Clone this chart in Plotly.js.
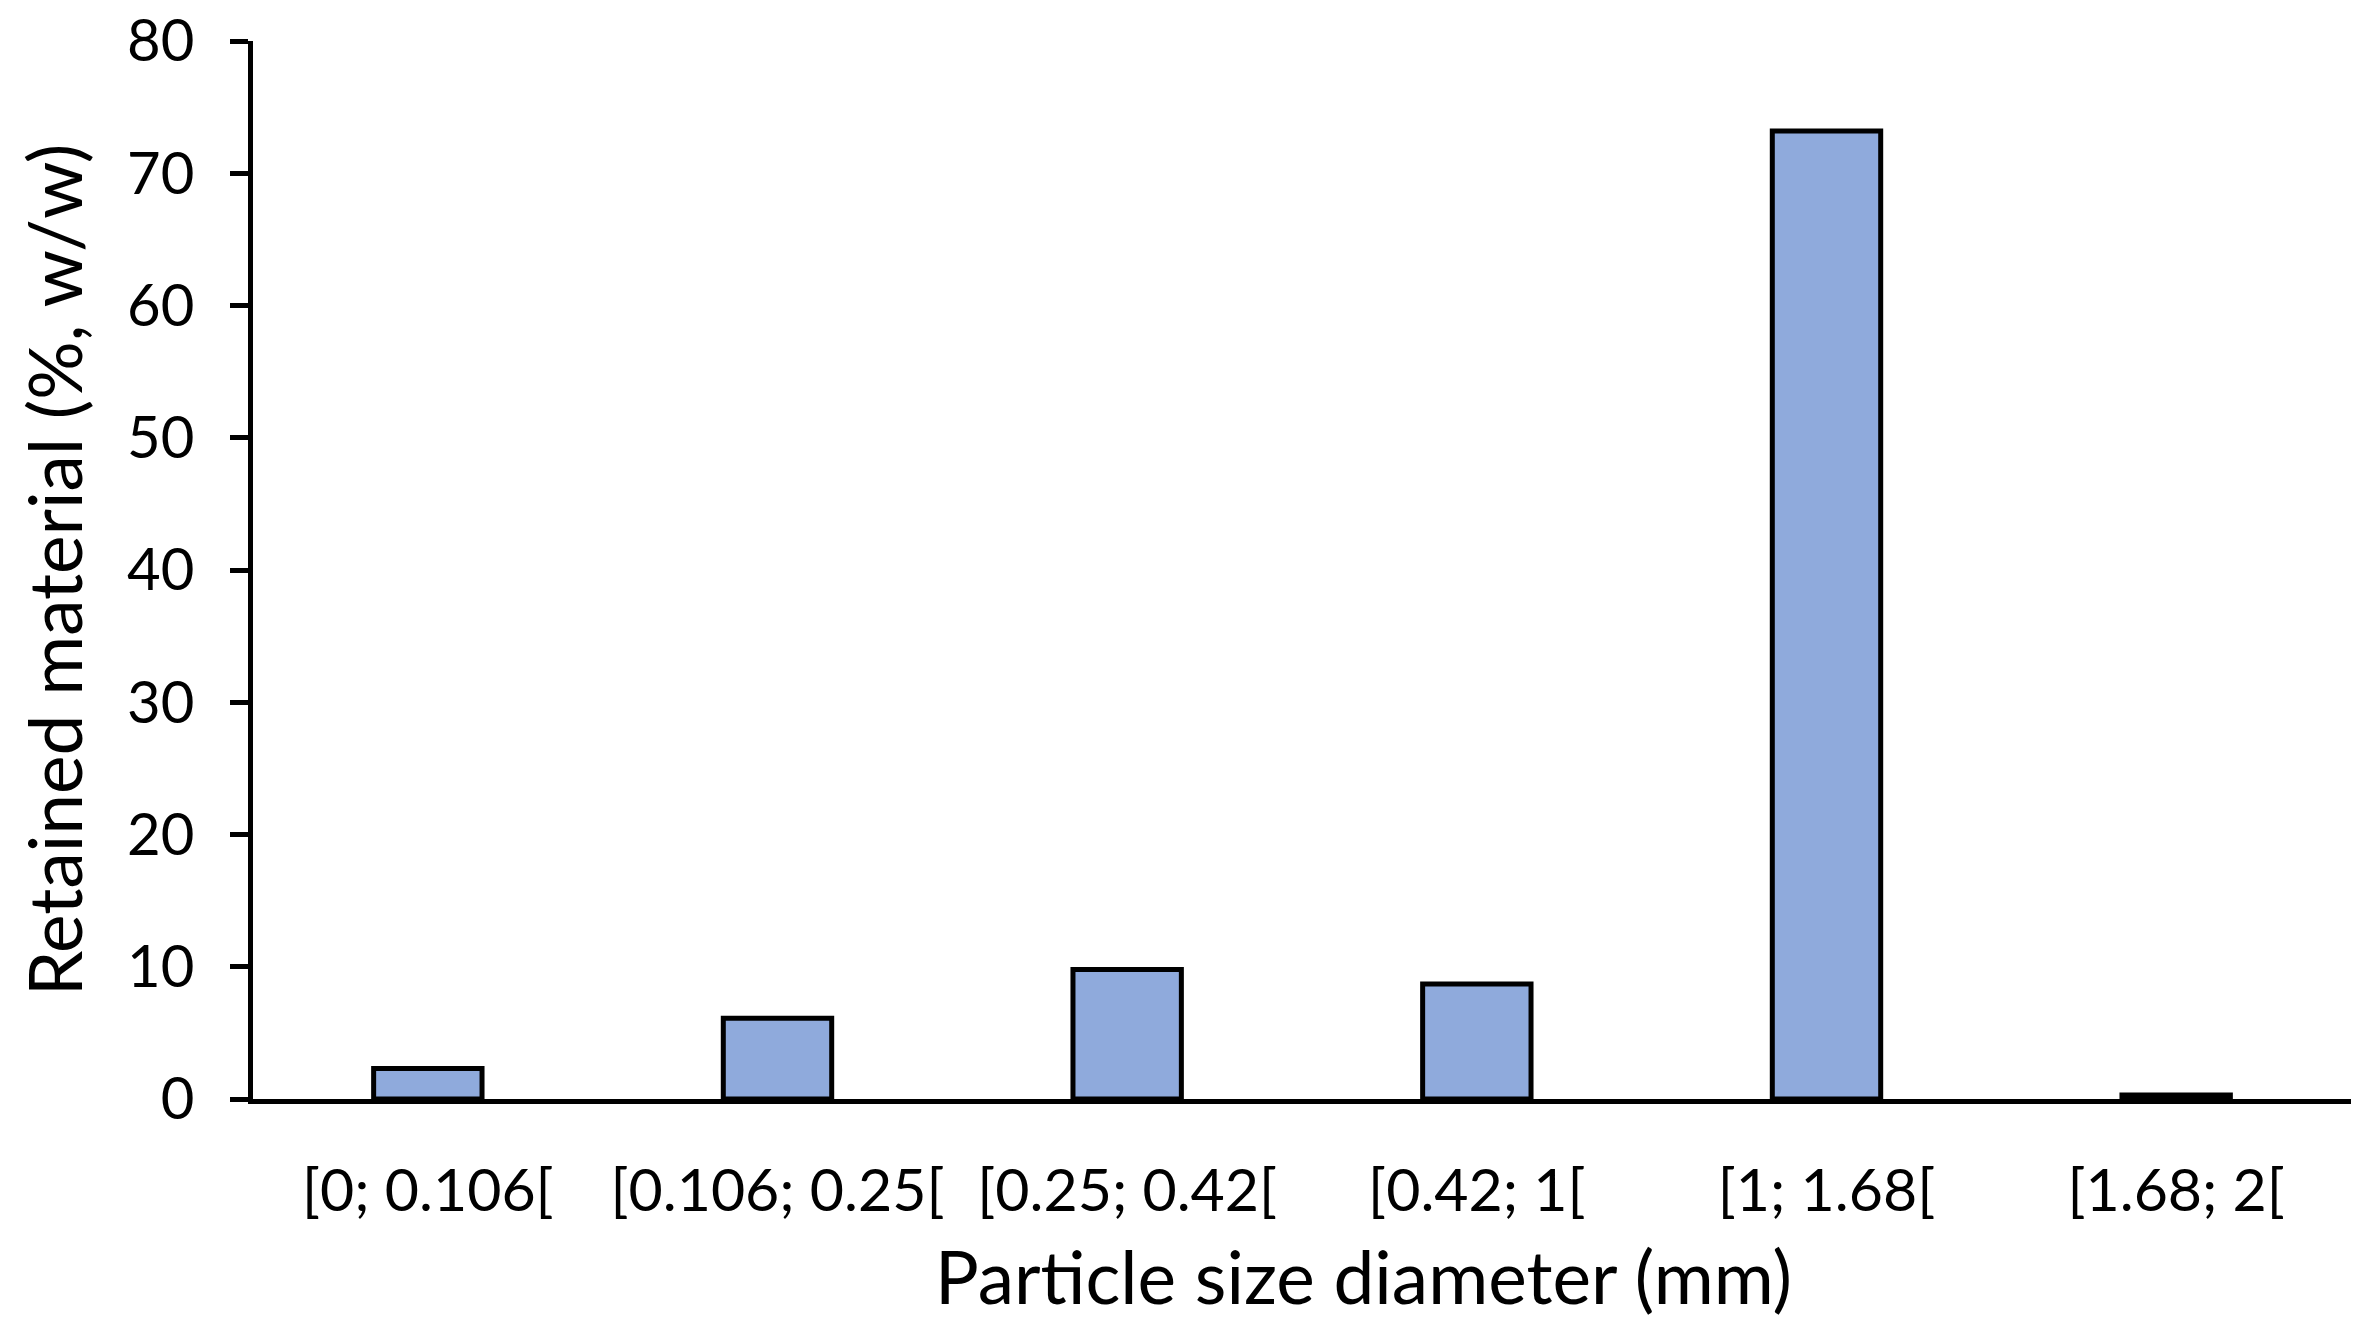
<!DOCTYPE html>
<html>
<head>
<meta charset="utf-8">
<script src="https://cdn.plot.ly/plotly-3.0.1.min.js"></script>
<style>html,body{margin:0;padding:0;background:#fff;}#chart{width:2374px;height:1336px;}</style>
</head>
<body>
<div id="chart"></div>
<script>
const categories = ["[0; 0.106[", "[0.106; 0.25[", "[0.25; 0.42[", "[0.42; 1[", "[1; 1.68[", "[1.68; 2["];
const retained = [2.3, 6.1, 9.8, 8.7, 73.2, 0.3];
const yTickValues = [0, 10, 20, 30, 40, 50, 60, 70, 80];
const xTitle = "Particle size diameter (mm)";
const yTitle = "Retained material (%, w/w)";

const FONT = "Lato, Carlito, Calibri, 'Liberation Sans', sans-serif";

const trace = {
  type: "bar",
  x: categories.map((c, i) => i),
  y: retained,
  width: 0.31,
  marker: { color: "#8FAADC", line: { color: "#000000", width: 5 } },
  hoverinfo: "x+y"
};

const layout = {
  width: 2374,
  height: 1336,
  margin: { l: 253, r: 23, t: 41, b: 237, pad: 0 },
  paper_bgcolor: "#ffffff",
  plot_bgcolor: "#ffffff",
  showlegend: false,
  font: { family: FONT, color: "#000000", size: 58 },
  xaxis: {
    type: "linear",
    range: [-0.5, 5.5],
    tickmode: "array",
    tickvals: categories.map((c, i) => i),
    ticktext: categories,
    ticks: "",
    showline: true,
    linecolor: "#000000",
    linewidth: 5,
    showgrid: false,
    zeroline: false,
    ticklabelstandoff: 36,
    tickfont: { family: FONT, size: 59, color: "#000000" },
    fixedrange: true
  },
  yaxis: {
    range: [0, 80],
    tickmode: "array",
    tickvals: yTickValues,
    ticktext: yTickValues.map(String),
    ticks: "outside",
    ticklen: 18,
    tickwidth: 5,
    tickcolor: "#000000",
    showline: true,
    linecolor: "#000000",
    linewidth: 5,
    showgrid: false,
    zeroline: false,
    ticklabelstandoff: 24,
    tickfont: { family: FONT, size: 58, color: "#000000" },
    title: { text: yTitle, font: { family: FONT, size: 73, color: "#000000" }, standoff: 22 },
    fixedrange: true
  },
  annotations: [{
    text: xTitle,
    xref: "paper", yref: "paper",
    x: (1363 - 253) / (2351 - 253), y: 0,
    xanchor: "center", yanchor: "middle",
    yshift: -(1276 - 1099),
    showarrow: false,
    font: { family: FONT, size: 73, color: "#000000" }
  }]
};

Plotly.newPlot("chart", [trace], layout, { displayModeBar: false, staticPlot: true });
</script>
</body>
</html>
